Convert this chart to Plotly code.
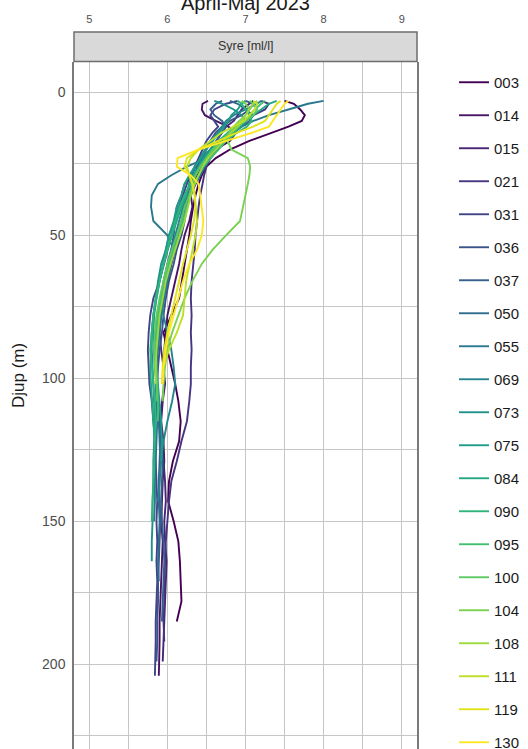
import plotly.graph_objects as go

STATIONS = ["003", "014", "015", "021", "031", "036", "037", "050", "055", "069", "073",
            "075", "084", "090", "095", "100", "104", "108", "111", "119", "130"]

DEPTH = [3, 4, 6, 8, 10, 12, 14, 17, 20, 23, 26, 29, 32, 36, 40, 45, 50, 55, 60, 66, 72,
         78, 84, 90, 96, 102, 108, 115, 122, 129, 136, 143, 150, 157, 164, 171, 178, 185,
         192, 199, 204]

O2_003 = [7.50, 7.62, 7.70, 7.76, 7.72, 7.55, 7.35, 7.05, 6.80, 6.62, 6.50, 6.44, 6.40, 6.36, 6.33, 6.30, 6.28, 6.25, 6.22, 6.18, 6.15, 6.05, 5.95, 6.00, 6.05, 6.10, 6.14, 6.17, 6.15, 6.07, 6.02, 6.01, 6.08, 6.14, 6.16, 6.17, 6.18, 6.12]
O2_014 = [6.52, 6.45, 6.44, 6.48, 6.62, 6.78, 6.88, 6.80, 6.62, 6.50, 6.45, 6.40, 6.36, 6.30, 6.32, 6.28, 6.22, 6.18, 6.15, 6.10, 6.05, 6.00, 5.98, 5.96, 5.95, 5.97, 5.94, 5.92, 5.95, 5.96, 5.94, 5.93, 5.92, 5.94, 5.93, 5.92, 5.91, 5.90, 5.90, 5.89, 5.89]
O2_015 = [7.10, 7.05, 6.95, 6.90, 6.85, 6.75, 6.70, 6.62, 6.55, 6.48, 6.42, 6.38, 6.30, 6.25, 6.22, 6.20, 6.15, 6.10, 6.05, 6.00, 5.95, 5.92, 5.90, 5.92, 5.95, 5.96, 5.93, 5.90, 5.92, 5.95, 5.97, 5.98, 5.96, 5.97, 5.99, 5.98, 5.97, 5.96, 5.95, 5.94]
O2_021 = [7.20, 7.30, 7.25, 7.10, 7.00, 6.90, 6.80, 6.70, 6.62, 6.55, 6.50, 6.47, 6.45, 6.42, 6.40, 6.38, 6.36, 6.35, 6.33, 6.31, 6.30, 6.31, 6.30, 6.31, 6.30, 6.30, 6.28, 6.25, 6.18, 6.12, 6.05, 6.02, 6.00, 5.98, 5.97, 5.96, 5.96, 5.95, 5.96]
O2_031 = [6.90, 6.75, 6.60, 6.55, 6.60, 6.65, 6.58, 6.50, 6.45, 6.40, 6.35, 6.30, 6.25, 6.20, 6.15, 6.10, 6.05, 6.00, 5.95, 5.90, 5.82, 5.78, 5.76, 5.75, 5.76, 5.77, 5.80, 5.82, 5.84, 5.85, 5.86, 5.87, 5.86, 5.87, 5.86, 5.87, 5.86, 5.85, 5.85, 5.84, 5.84]
O2_036 = [7.00, 7.10, 7.05, 6.95, 6.80, 6.70, 6.62, 6.55, 6.50, 6.44, 6.38, 6.35, 6.32, 6.28, 6.25, 6.22, 6.18, 6.12, 6.08, 6.02, 5.98, 5.95, 5.93, 5.90, 5.88, 5.87, 5.88, 5.90, 5.91, 5.90, 5.89, 5.90, 5.91, 5.90, 5.89, 5.88, 5.88, 5.87, 5.87, 5.86]
O2_037 = [6.70, 6.62, 6.55, 6.60, 6.70, 6.75, 6.70, 6.62, 6.55, 6.45, 6.35, 6.30, 6.22, 6.18, 6.12, 6.10, 6.08, 6.05, 6.00, 5.96, 5.92, 5.88, 5.85, 5.83, 5.84, 5.86, 5.88, 5.90, 5.92, 5.94, 5.93, 5.92, 5.93, 5.95, 5.96, 5.95, 5.94, 5.93]
O2_050 = [6.80, 6.90, 7.00, 7.10, 7.05, 6.95, 6.85, 6.75, 6.65, 6.55, 6.48, 6.42, 6.35, 6.28, 6.22, 6.18, 6.12, 6.08, 6.02, 5.98, 5.94, 5.90, 5.88, 5.86, 5.85, 5.86, 5.88, 5.89, 5.90, 5.91, 5.90, 5.89, 5.90, 5.89, 5.88, 5.89]
O2_055 = [8.00, 7.80, 7.55, 7.30, 7.10, 6.95, 6.85, 6.70, 6.55, 6.50, 6.25, 6.05, 5.88, 5.80, 5.79, 5.82, 6.00, 6.08, 6.05, 6.00, 5.96, 5.92, 5.90, 5.88, 5.86, 5.85, 5.86, 5.87, 5.86, 5.85, 5.84, 5.84, 5.83]
O2_069 = [7.20, 7.15, 7.00, 6.85, 6.75, 6.70, 6.65, 6.55, 6.48, 6.42, 6.36, 6.32, 6.28, 6.25, 6.20, 6.15, 6.10, 6.05, 6.00, 5.95, 5.92, 5.95, 6.00, 6.05, 6.08, 6.10, 6.06, 6.00, 5.95, 5.92, 5.90, 5.88]
O2_073 = [6.60, 6.70, 6.85, 6.95, 7.00, 6.95, 6.80, 6.65, 6.55, 6.45, 6.40, 6.35, 6.30, 6.22, 6.15, 6.10, 6.02, 5.98, 5.92, 5.88, 5.85, 5.82, 5.80, 5.80, 5.81, 5.82, 5.83, 5.84, 5.83, 5.82, 5.82, 5.81, 5.81, 5.80, 5.80]
O2_075 = [7.00, 6.95, 6.90, 6.82, 6.78, 6.72, 6.66, 6.58, 6.50, 6.42, 6.35, 6.28, 6.22, 6.18, 6.12, 6.08, 6.02, 5.98, 5.94, 5.90, 5.86, 5.83, 5.82, 5.84, 5.86, 5.88, 5.90, 5.92, 5.93, 5.92]
O2_084 = [7.40, 7.30, 7.20, 7.10, 7.00, 6.88, 6.78, 6.66, 6.56, 6.48, 6.40, 6.34, 6.28, 6.24, 6.18, 6.12, 6.06, 6.00, 5.95, 5.90, 5.86, 5.82, 5.80, 5.79, 5.78, 5.79, 5.80, 5.82, 5.84]
O2_090 = [6.90, 6.95, 7.00, 7.05, 7.08, 7.02, 6.90, 6.75, 6.60, 6.50, 6.42, 6.36, 6.30, 6.22, 6.16, 6.10, 6.05, 6.00, 5.95, 5.90, 5.85, 5.82, 5.80, 5.78, 5.80, 5.82, 5.84, 5.85, 5.84, 5.83, 5.82, 5.81, 5.80]
O2_095 = [7.25, 7.20, 7.12, 7.05, 6.98, 6.92, 6.85, 6.75, 6.65, 6.55, 6.46, 6.40, 6.34, 6.30, 6.25, 6.20, 6.15, 6.08, 6.02, 5.96, 5.92, 5.88, 5.86, 5.85, 5.86, 5.87, 5.88, 5.88]
O2_100 = [7.05, 7.10, 7.15, 7.10, 7.00, 6.90, 6.80, 6.68, 6.58, 6.50, 6.42, 6.36, 6.32, 6.28, 6.22, 6.18, 6.12, 6.06, 6.00, 5.95, 5.90, 5.86, 5.84, 5.83, 5.84, 5.86, 5.87]
O2_104 = [6.95, 7.00, 7.05, 7.00, 6.92, 6.85, 6.80, 6.77, 6.82, 7.03, 7.06, 7.05, 7.03, 7.00, 6.97, 6.93, 6.75, 6.58, 6.44, 6.32, 6.22, 6.14, 6.06, 6.00, 5.97, 5.95, 5.94]
O2_108 = [7.15, 7.10, 7.05, 7.00, 6.95, 6.90, 6.82, 6.72, 6.62, 6.52, 6.45, 6.40, 6.35, 6.30, 6.26, 6.22, 6.16, 6.10, 6.04, 5.98, 5.94, 5.90, 5.88, 5.86, 5.85, 5.85]
O2_111 = [7.10, 7.15, 7.12, 7.05, 6.98, 6.85, 6.70, 6.55, 6.40, 6.30, 6.25, 6.28, 6.32, 6.35, 6.36, 6.38, 6.36, 6.32, 6.28, 6.24, 6.22, 6.20, 6.12, 6.02, 5.95]
O2_119 = [7.45, 7.40, 7.35, 7.30, 7.25, 7.10, 6.90, 6.65, 6.40, 6.25, 6.22, 6.28, 6.32, 6.35, 6.36, 6.34, 6.30, 6.25, 6.20, 6.15, 6.10, 6.05, 6.00, 5.96, 5.94, 5.93]
O2_130 = [7.55, 7.50, 7.45, 7.40, 7.36, 7.30, 7.10, 6.75, 6.40, 6.13, 6.12, 6.30, 6.40, 6.42, 6.44, 6.46, 6.44, 6.38, 6.28, 6.20, 6.14, 6.08, 6.02, 5.98, 5.95, 5.94]

PROFILES = [O2_003, O2_014, O2_015, O2_021, O2_031, O2_036, O2_037, O2_050, O2_055, O2_069,
            O2_073, O2_075, O2_084, O2_090, O2_095, O2_100, O2_104, O2_108, O2_111, O2_119, O2_130]

COLORS = ["#440154", "#471365", "#482475", "#463480", "#414487", "#3B528B", "#355F8D",
          "#2F6C8E", "#2A788E", "#25848E", "#21908C", "#1E9C89", "#22A884", "#2FB47C",
          "#44BF70", "#5EC962", "#7AD151", "#9BD93C", "#BDDF26", "#DFE318", "#FDE725"]

X_TICKS = [5, 6, 7, 8, 9]
Y_TICKS = [0, 50, 100, 150, 200]

W, H = 528, 749
PLOT_L, PLOT_R, PLOT_T = 74, 417, 32
ML, MR, MT, MB = PLOT_L, W - PLOT_R, PLOT_T, 0
PW, PH = W - ML - MR, H - MT - MB
PANEL_TOP = 61.5
YDOM_TOP = (H - PANEL_TOP) / PH


def py(pix):
    return (H - pix) / PH


def px(pix):
    return (pix - PLOT_L) / PW


fig = go.Figure()
for name, vals, col in zip(STATIONS, PROFILES, COLORS):
    fig.add_trace(go.Scatter(
        x=vals, y=DEPTH[:len(vals)], mode="lines", name=name, legendgroup=name,
        line=dict(color=col, width=1.9),
    ))

grid = "#C6C6C6"
fig.update_layout(
    width=W, height=H,
    margin=dict(l=ML, r=MR, t=MT, b=MB, autoexpand=False),
    paper_bgcolor="white", plot_bgcolor="white",
    font=dict(family="Liberation Sans, Arial, sans-serif"),
    xaxis=dict(
        range=[4.804, 9.196], side="top", anchor="free", position=1,
        tickvals=X_TICKS, ticks="", showline=False, zeroline=False,
        showgrid=True, gridcolor=grid, gridwidth=1.2,
        minor=dict(dtick=0.5, tick0=0, showgrid=True, gridcolor=grid, gridwidth=1.2),
        tickfont=dict(size=11, color="#4D4D4D"), ticklabelstandoff=7,
    ),
    yaxis=dict(
        range=[229.6, -10.77], domain=[0, YDOM_TOP],
        tickvals=Y_TICKS, ticks="", zeroline=False,
        showgrid=True, gridcolor=grid, gridwidth=1.2,
        minor=dict(dtick=25, tick0=0, showgrid=True, gridcolor=grid, gridwidth=1.2),
        showline=True, mirror=True, linecolor="#7A7A7A", linewidth=1.5,
        tickfont=dict(size=14, color="#4D4D4D"), ticklabelstandoff=4,
    ),
    legend=dict(
        x=px(454), xanchor="left", y=py(66), yanchor="top",
        font=dict(size=15, color="#1A1A1A"), tracegroupgap=10.5,
        bgcolor="rgba(0,0,0,0)",
    ),
    showlegend=True,
)

fig.add_shape(type="rect", xref="paper", yref="paper", x0=0, x1=1, y0=YDOM_TOP, y1=1,
              fillcolor="#D9D9D9", line=dict(color="#6E6E6E", width=1.5), layer="above")

fig.add_annotation(text="Syre [ml/l]", xref="paper", yref="paper", x=0.5, y=py(46.5),
                   showarrow=False, xanchor="center", yanchor="middle",
                   font=dict(size=12.5, color="#333333"))
fig.add_annotation(text="April-Maj 2023", xref="paper", yref="paper", x=0.5, y=py(3.5),
                   showarrow=False, xanchor="center", yanchor="middle",
                   font=dict(size=20, color="#1A1A1A"))
fig.add_annotation(text="Djup (m)", xref="paper", yref="paper", x=px(18), y=py(376),
                   showarrow=False, textangle=-90, xanchor="center", yanchor="middle",
                   font=dict(size=17, color="#1A1A1A"))

fig.write_html("out.html", config={"displayModeBar": False},
               post_script="document.body.style.margin='0';document.body.style.overflow='hidden';")
